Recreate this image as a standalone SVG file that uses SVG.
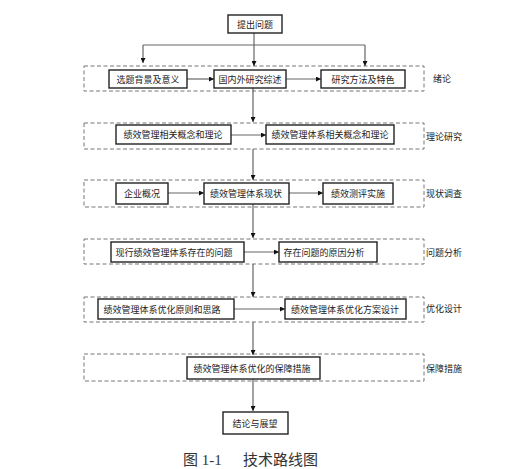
<svg xmlns="http://www.w3.org/2000/svg" width="529" height="469" viewBox="0 0 529 469">
<style>
.band{fill:none;stroke:#777;stroke-width:1;stroke-dasharray:4,2.5}
.box{fill:#fff;stroke:#222;stroke-width:1.4}
.t{font-family:"Noto Sans CJK SC",sans-serif;font-size:9px;fill:#222;text-anchor:middle;dominant-baseline:central}
.lab{font-family:"Noto Sans CJK SC",sans-serif;font-size:9px;fill:#222;dominant-baseline:central}
.ln{fill:none;stroke:#666;stroke-width:1.2}
.cap{font-family:"Liberation Serif","Noto Sans CJK SC",serif;font-size:15px;fill:#333}
</style>
<defs>
<marker id="ah" viewBox="0 0 10 10" refX="10" refY="5" markerWidth="5" markerHeight="5" markerUnits="userSpaceOnUse" orient="auto">
<path d="M0,0 L10,5 L0,10 z" fill="#111"/>
</marker>
</defs>
<rect width="529" height="469" fill="#fff"/>
<g id="bands">
<rect class="band" x="84" y="66" width="340" height="25"/>
<rect class="band" x="84" y="123" width="340" height="26"/>
<rect class="band" x="84" y="180" width="340" height="27"/>
<rect class="band" x="84" y="239" width="340" height="25"/>
<rect class="band" x="84" y="297" width="340" height="25"/>
<rect class="band" x="84" y="354" width="340" height="27"/>
</g>
<g id="connectors">
<path class="ln" d="M254,33 V45"/>
<path class="ln" d="M143,45 H365"/>
<path class="ln" d="M143,45 V63" marker-end="url(#ah)"/>
<path class="ln" d="M254,45 V66" marker-end="url(#ah)"/>
<path class="ln" d="M365,45 V66" marker-end="url(#ah)"/>
<path class="ln" d="M187,79 H214" marker-end="url(#ah)"/>
<path class="ln" d="M286,79 H321" marker-end="url(#ah)"/>
<path class="ln" d="M253,88 V122" marker-end="url(#ah)"/>
<path class="ln" d="M231,135 H266" marker-end="url(#ah)"/>
<path class="ln" d="M253,149 V180" marker-end="url(#ah)"/>
<path class="ln" d="M168,193 H204" marker-end="url(#ah)"/>
<path class="ln" d="M289,193 H323" marker-end="url(#ah)"/>
<path class="ln" d="M253,204 V238" marker-end="url(#ah)"/>
<path class="ln" d="M244,252 H279" marker-end="url(#ah)"/>
<path class="ln" d="M253,264 V297" marker-end="url(#ah)"/>
<path class="ln" d="M234,309 H285" marker-end="url(#ah)"/>
<path class="ln" d="M253,322 V355" marker-end="url(#ah)"/>
<path class="ln" d="M253,379 V411" marker-end="url(#ah)"/>
</g>
<g id="n0"><rect class="box" x="228" y="15" width="54" height="18"/><text class="t" x="255" y="24">提出问题</text></g>
<g id="n1"><rect class="box" x="109" y="70" width="78" height="18"/><text class="t" x="148" y="79">选题背景及意义</text></g>
<g id="n2"><rect class="box" x="214" y="70" width="72" height="18"/><text class="t" x="250" y="79">国内外研究综述</text></g>
<g id="n3"><rect class="box" x="321" y="70" width="84" height="18"/><text class="t" x="363" y="79">研究方法及特色</text></g>
<g id="n4"><rect class="box" x="116" y="125" width="115" height="19"/><text class="t" x="173" y="134.5">绩效管理相关概念和理论</text></g>
<g id="n5"><rect class="box" x="266" y="125" width="128" height="19"/><text class="t" x="330" y="134.5">绩效管理体系相关概念和理论</text></g>
<g id="n6"><rect class="box" x="116" y="183" width="52" height="21"/><text class="t" x="142" y="193.5">企业概况</text></g>
<g id="n7"><rect class="box" x="204" y="183" width="85" height="21"/><text class="t" x="246" y="193.5">绩效管理体系现状</text></g>
<g id="n8"><rect class="box" x="323" y="183" width="70" height="21"/><text class="t" x="358" y="193.5">绩效测评实施</text></g>
<g id="n9"><rect class="box" x="111" y="242" width="133" height="20"/><text class="t" x="174" y="252">现行绩效管理体系存在的问题</text></g>
<g id="n10"><rect class="box" x="279" y="242" width="98" height="20"/><text class="t" x="324" y="252">存在问题的原因分析</text></g>
<g id="n11"><rect class="box" x="98" y="299" width="136" height="20"/><text class="t" x="162" y="309">绩效管理体系优化原则和思路</text></g>
<g id="n12"><rect class="box" x="285" y="299" width="121" height="20"/><text class="t" x="345" y="309">绩效管理体系优化方案设计</text></g>
<g id="n13"><rect class="box" x="187" y="357" width="133" height="22"/><text class="t" x="252" y="368">绩效管理体系优化的保障措施</text></g>
<g id="n14"><rect class="box" x="223" y="412" width="65" height="22"/><text class="t" x="255" y="423">结论与展望</text></g>
<g id="labels">
<text class="lab" x="433" y="78">绪论</text>
<text class="lab" x="426" y="136">理论研究</text>
<text class="lab" x="426" y="193">现状调查</text>
<text class="lab" x="426" y="252">问题分析</text>
<text class="lab" x="426" y="308">优化设计</text>
<text class="lab" x="426" y="368">保障措施</text>
</g>
<g id="caption">
<text class="cap" x="183" y="465">图 1-1</text>
<text class="cap" x="243" y="465">技术路线图</text>
</g>
</svg>
